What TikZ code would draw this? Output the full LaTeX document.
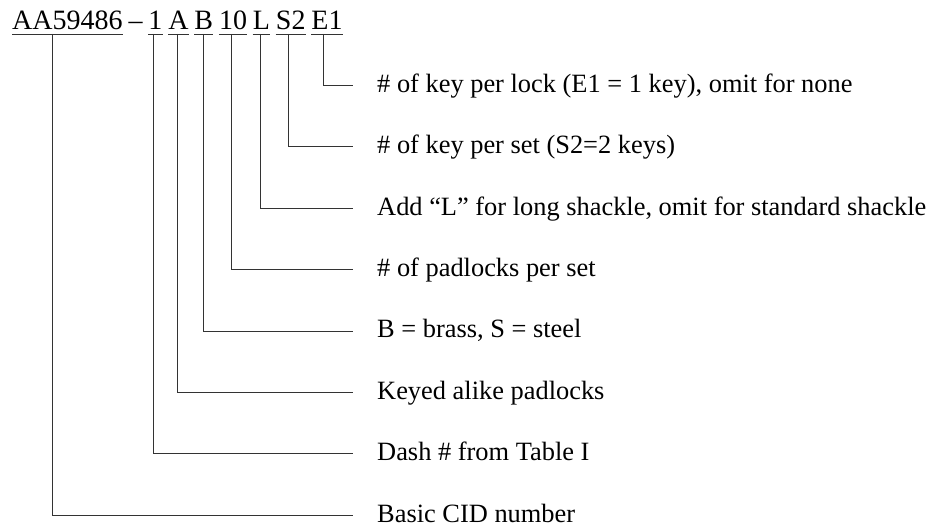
\documentclass[tikz,border=0pt]{standalone}
\usepackage{fontspec}
\setmainfont{Liberation Serif}
\usetikzlibrary{positioning}

\begin{document}
\begin{tikzpicture}[x=1pt, y=-1pt,
  code/.style={inner sep=0pt, font=\fontsize{28}{32}\selectfont},
  desc/.style={inner sep=0pt, anchor=base west, font=\fontsize{26.4}{30}\selectfont},
  lead/.style={line width=0.8pt, black!80}]
  \useasboundingbox (0,0) rectangle (934,524);

  % Part number, one node per field
  \node[code, anchor=base west] (cid) at (12,30) {AA59486};
  \node[code, base right=5.5pt of cid] (dash) {--};
  \node[code, base right=5.5pt of dash] (one) {1};
  \node[code, base right=5.5pt of one] (kal) {A};
  \node[code, base right=5.5pt of kal] (mat) {B};
  \node[code, base right=5.5pt of mat] (qty) {10};
  \node[code, base right=5.5pt of qty] (shk) {L};
  \node[code, base right=5.5pt of shk] (set) {S2};
  \node[code, base right=5.5pt of set] (per) {E1};

  % Underlines
  \foreach \f in {cid,one,kal,mat,qty,shk,set,per} {
    \draw[lead] ([yshift=-4pt]\f.base west) -- ([yshift=-4pt]\f.base east);
  }

  % Descriptions (rows 61.35 apart)
  \node[desc] (perkey) at (377,92.5)  {\# of key per lock (E1 = 1 key), omit for none};
  \node[desc] (setkey) at (377,153.9) {\# of key per set (S2=2 keys)};
  \node[desc] (shack)  at (377,215.2) {Add “L” for long shackle, omit for standard shackle};
  \node[desc] (count)  at (377,276.6) {\# of padlocks per set};
  \node[desc] (metal)  at (377,337.9) {B = brass, S = steel};
  \node[desc] (alike)  at (377,399.3) {Keyed alike padlocks};
  \node[desc] (table)  at (377,460.6) {Dash \# from Table I};
  \node[desc] (basic)  at (377,522.0) {Basic CID number};

  % Leaders from field to description
  \foreach \f/\l/\dx in {per/perkey/-4, set/setkey/-2, shk/shack/-1.5,
                         qty/count/-2, mat/metal/-0.5, kal/alike/-1.5,
                         one/table/-2, cid/basic/-15} {
    \draw[lead] ([xshift=\dx pt, yshift=-4pt]\f.base) |- ([xshift=-24pt, yshift=7pt]\l.base west);
  }
\end{tikzpicture}
\end{document}
